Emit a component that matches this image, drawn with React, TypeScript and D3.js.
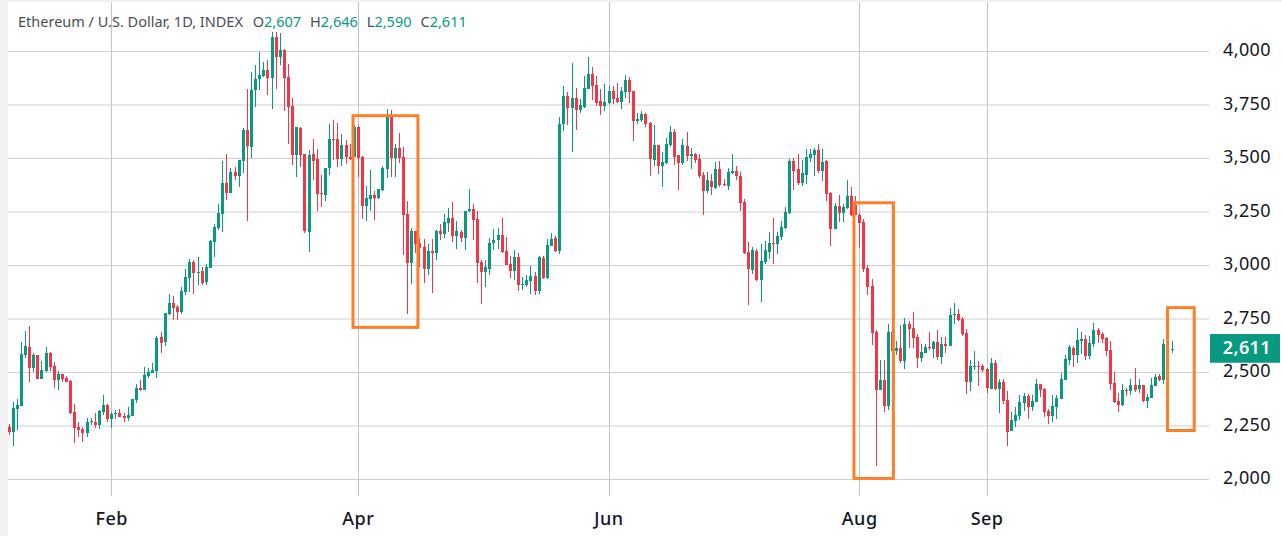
import * as d3 from "d3";
import { useEffect, useRef } from "react";

// daily candles from 2024-01-07 to 2024-10-16
const startDay = new Date(Date.UTC(2024, 0, 7));
const opens = [2246,2223,2329,2344,2581,2618,2520,2581,2469,2506,2590,2530,2464,2492,2473,2459,2315,2244,2235,2216,2268,2268,2254,2315,2347,2282,2305,2310,2296,2286,2296,2371,2427,2417,2483,2497,2506,2665,2642,2772,2823,2805,2781,2875,2940,3015,2963,2973,2921,2987,3108,3174,3239,3384,3337,3436,3417,3487,3632,3552,3819,3870,3884,3912,3875,4067,3973,4006,3880,3744,3515,3641,3520,3155,3520,3496,3337,3328,3454,3590,3590,3496,3562,3506,3506,3648,3506,3277,3310,3328,3314,3352,3450,3693,3501,3548,3506,3239,3010,3160,3104,3085,2982,3066,3057,3160,3146,3197,3221,3137,3155,3127,3253,3263,3216,3015,2968,2982,3104,3118,3141,3066,3006,2973,3038,2908,2908,2926,2950,2880,3034,2940,3090,3127,3066,3660,3791,3735,3782,3726,3740,3824,3894,3843,3768,3745,3759,3815,3782,3763,3810,3866,3815,3674,3679,3707,3665,3492,3562,3464,3478,3562,3623,3515,3478,3558,3511,3520,3497,3422,3347,3394,3361,3450,3380,3371,3431,3441,3417,3296,3062,2978,3066,2931,3015,3062,3104,3099,3132,3174,3244,3487,3450,3384,3422,3501,3515,3539,3440,3487,3337,3169,3277,3244,3267,3323,3281,3235,3202,2987,2903,2688,2417,2463,2342,2688,2599,2613,2552,2725,2707,2665,2567,2591,2619,2609,2642,2572,2633,2623,2768,2773,2749,2684,2455,2525,2530,2530,2516,2422,2544,2422,2455,2371,2226,2273,2296,2357,2389,2338,2361,2446,2422,2319,2296,2338,2375,2464,2558,2614,2581,2647,2656,2577,2633,2698,2679,2661,2605,2450,2366,2347,2418,2413,2441,2422,2441,2366,2380,2436,2483,2464,2633,2607];
const highs = [2258,2361,2375,2643,2693,2716,2590,2581,2553,2618,2595,2548,2506,2492,2483,2464,2352,2268,2244,2286,2286,2310,2324,2394,2352,2315,2324,2329,2310,2338,2375,2445,2464,2525,2520,2544,2670,2688,2777,2865,2859,2814,2900,2982,3029,3024,3038,2991,3006,3118,3193,3286,3487,3520,3454,3459,3492,3641,3823,3903,3936,3996,3950,3959,4090,4090,4085,4010,3940,3781,3646,3646,3520,3538,3590,3543,3422,3454,3660,3679,3665,3613,3585,3566,3655,3651,3510,3370,3445,3347,3356,3464,3730,3726,3567,3618,3553,3300,3174,3160,3127,3123,3099,3123,3165,3193,3239,3267,3296,3207,3165,3253,3356,3286,3253,3024,3024,3127,3169,3174,3221,3132,3043,3071,3057,2945,2954,2996,2968,3043,3043,3123,3151,3137,3693,3838,3810,3945,3829,3777,3885,3974,3927,3885,3824,3847,3838,3838,3852,3833,3889,3880,3815,3712,3721,3712,3670,3656,3562,3529,3595,3651,3637,3515,3590,3623,3548,3525,3520,3436,3436,3427,3483,3487,3403,3455,3520,3464,3436,3310,3109,3085,3076,3099,3113,3155,3221,3155,3207,3272,3496,3501,3520,3492,3543,3543,3548,3567,3543,3492,3342,3291,3328,3286,3398,3366,3326,3244,3216,3001,2936,2697,2557,2557,2725,2688,2646,2721,2753,2739,2782,2679,2633,2633,2689,2647,2698,2665,2665,2801,2824,2796,2759,2703,2558,2600,2553,2539,2520,2567,2558,2470,2469,2413,2315,2338,2394,2404,2399,2394,2469,2446,2427,2329,2394,2394,2497,2581,2628,2623,2707,2689,2675,2670,2731,2707,2689,2665,2647,2502,2404,2446,2427,2469,2520,2469,2441,2399,2474,2492,2492,2656,2640,2646];
const lows = [2207,2157,2230,2344,2568,2456,2501,2469,2469,2501,2506,2427,2417,2455,2455,2305,2170,2198,2174,2198,2254,2240,2235,2300,2268,2240,2282,2291,2268,2272,2296,2357,2413,2417,2473,2497,2473,2590,2623,2767,2744,2744,2772,2861,2875,2868,2907,2907,2907,2987,3038,3164,3155,3305,3337,3398,3365,3431,3206,3501,3739,3819,3880,3795,3730,3823,3936,3721,3566,3468,3412,3459,3150,3062,3398,3253,3272,3300,3422,3492,3459,3464,3473,3494,3506,3412,3216,3207,3253,3211,3310,3347,3408,3414,3412,3478,3048,2772,2912,3060,2992,2917,2954,2870,3024,3118,3127,3155,3109,3076,3109,3071,3249,3118,2917,2819,2898,2954,3071,3076,3057,3001,2940,2931,2880,2884,2898,2866,2861,2866,2936,2936,3090,3062,3052,3628,3656,3530,3632,3712,3735,3824,3773,3745,3702,3721,3754,3754,3759,3731,3782,3759,3581,3660,3670,3646,3417,3464,3427,3366,3473,3553,3469,3352,3469,3487,3450,3478,3408,3235,3338,3329,3356,3366,3371,3352,3427,3399,3254,3053,2814,2959,2926,2828,3006,3029,3006,3052,3118,3169,3239,3352,3375,3370,3380,3482,3417,3431,3394,3300,3090,3169,3202,3202,3263,3230,3235,3080,2968,2861,2627,2061,2417,2314,2323,2599,2580,2543,2515,2613,2614,2520,2548,2591,2605,2567,2558,2539,2591,2623,2726,2740,2670,2399,2413,2511,2436,2502,2404,2422,2418,2310,2352,2156,2226,2245,2277,2319,2282,2319,2361,2385,2291,2259,2268,2282,2375,2464,2534,2525,2544,2586,2558,2562,2619,2637,2637,2577,2418,2357,2315,2343,2390,2394,2408,2404,2361,2333,2380,2436,2460,2446,2600,2590];
const closes = [2223,2335,2347,2586,2623,2520,2581,2469,2511,2590,2525,2464,2492,2469,2455,2310,2240,2230,2216,2268,2272,2254,2319,2347,2282,2305,2310,2291,2286,2300,2375,2427,2417,2487,2501,2511,2660,2637,2777,2823,2800,2781,2879,2945,3015,2963,2968,2917,2991,3115,3178,3244,3384,3337,3436,3417,3492,3632,3557,3819,3870,3889,3912,3875,4067,3973,4006,3875,3739,3515,3646,3515,3160,3515,3487,3333,3333,3454,3590,3585,3496,3562,3506,3500,3648,3501,3277,3314,3328,3314,3356,3454,3693,3501,3548,3501,3235,3010,3160,3099,3081,2982,3066,3057,3160,3146,3202,3221,3137,3160,3127,3253,3263,3211,3010,2968,2992,3104,3118,3141,3062,3001,2973,3038,2908,2912,2931,2950,2880,3038,2940,3095,3123,3066,3660,3791,3735,3782,3726,3749,3829,3894,3838,3759,3745,3763,3815,3777,3763,3815,3866,3810,3674,3684,3707,3660,3497,3562,3464,3483,3567,3623,3506,3478,3562,3511,3520,3492,3417,3347,3399,3366,3450,3375,3375,3436,3441,3417,3291,3057,2984,3071,2931,3020,3071,3104,3099,3137,3179,3249,3487,3440,3384,3431,3506,3520,3539,3440,3482,3333,3169,3277,3244,3272,3323,3235,3235,3197,2982,2898,2683,2417,2463,2342,2688,2599,2613,2552,2725,2702,2661,2567,2595,2619,2614,2642,2572,2633,2623,2768,2773,2745,2679,2455,2530,2530,2525,2511,2427,2544,2422,2455,2366,2221,2277,2301,2362,2389,2338,2366,2446,2418,2315,2296,2343,2380,2469,2562,2619,2581,2651,2656,2577,2637,2698,2675,2656,2600,2446,2362,2347,2418,2413,2441,2418,2441,2366,2385,2441,2478,2464,2633,2605,2611];

const priceTicks = [2000, 2250, 2500, 2750, 3000, 3250, 3500, 3750, 4000];
const monthTicks = [
  { label: "Feb", date: new Date(Date.UTC(2024, 1, 1)) },
  { label: "Apr", date: new Date(Date.UTC(2024, 3, 1)) },
  { label: "Jun", date: new Date(Date.UTC(2024, 5, 1)) },
  { label: "Aug", date: new Date(Date.UTC(2024, 7, 1)) },
  { label: "Sep", date: new Date(Date.UTC(2024, 8, 1)) },
];

// highlight boxes: first/last candle index and price range
const boxFrom = [83.7, 205.6, 281.9];
const boxTo = [99.5, 215.2, 288.4];
const boxTop = [3700, 3293, 2803];
const boxBottom = [2711, 2005, 2229];

const green = "#089981";
const red = "#f23645";
const fontFamily = "'Noto Sans', sans-serif";

const App = () => {
  const svgRef = useRef<SVGSVGElement>(null);

  useEffect(() => {
    const svg = d3.select(svgRef.current);
    svg.selectAll("*").remove();

    const width = 1282;
    const height = 536;
    const plotLeft = 8;
    const plotRight = 1209;
    const n = opens.length - 1;

    const xRange = [9.02, 1172.02];
    const x = d3.scaleUtc().domain([startDay, d3.utcDay.offset(startDay, n)]).range(xRange);
    const xIndex = d3.scaleLinear().domain([0, n]).range(xRange);
    const y = d3.scaleLinear().domain([2000, 4000]).range([479.5, 51.5]);

    svg.append("rect").attr("width", width).attr("height", height).attr("fill", "#fff");
    // the grey edge around the screenshot
    svg.append("rect").attr("width", width).attr("height", 2).attr("fill", "#f2f2f2");
    svg.append("rect").attr("width", plotLeft).attr("height", height).attr("fill", "#f2f2f2");

    // grid
    svg
      .append("g")
      .selectAll("line")
      .data(priceTicks)
      .join("line")
      .attr("x1", plotLeft)
      .attr("x2", plotRight)
      .attr("y1", (d) => y(d))
      .attr("y2", (d) => y(d))
      .attr("stroke", "#cfcfcf");

    svg
      .append("g")
      .selectAll("line")
      .data(monthTicks)
      .join("line")
      .attr("x1", (d) => Math.floor(x(d.date)) + 0.5)
      .attr("x2", (d) => Math.floor(x(d.date)) + 0.5)
      .attr("y1", 2)
      .attr("y2", 496)
      .attr("stroke", "#c4c4c4");

    // candles
    const candles = svg
      .append("g")
      .selectAll("g")
      .data(d3.range(opens.length))
      .join("g")
      .attr("fill", (i) => (closes[i] >= opens[i] ? green : red));

    candles
      .append("rect")
      .attr("x", (i) => Math.floor(xIndex(i)))
      .attr("width", 1)
      .attr("y", (i) => Math.round(y(highs[i])))
      .attr("height", (i) => Math.max(1, Math.round(y(lows[i])) - Math.round(y(highs[i]))));

    candles
      .append("rect")
      .attr("x", (i) => Math.floor(xIndex(i)) - 1)
      .attr("width", 3)
      .attr("y", (i) => Math.round(y(Math.max(opens[i], closes[i]))))
      .attr("height", (i) =>
        Math.max(1, Math.round(y(Math.min(opens[i], closes[i]))) - Math.round(y(Math.max(opens[i], closes[i]))))
      );

    // orange boxes
    svg
      .append("g")
      .selectAll("rect")
      .data(boxFrom)
      .join("rect")
      .attr("x", (_, k) => xIndex(boxFrom[k]))
      .attr("width", (_, k) => xIndex(boxTo[k]) - xIndex(boxFrom[k]))
      .attr("y", (_, k) => y(boxTop[k]))
      .attr("height", (_, k) => y(boxBottom[k]) - y(boxTop[k]))
      .attr("fill", "none")
      .attr("stroke", "#ff7f27")
      .attr("stroke-width", 3);

    // price axis
    svg
      .append("g")
      .selectAll("text")
      .data(priceTicks)
      .join("text")
      .attr("x", 1271)
      .attr("y", (d) => y(d) + 4.5)
      .attr("text-anchor", "end")
      .attr("font-family", fontFamily)
      .attr("font-size", 18)
      .attr("letter-spacing", 0.4)
      .attr("fill", "#131722")
      .text((d) => d3.format(",")(d));

    // last price tag
    const last = closes[n];
    svg
      .append("rect")
      .attr("x", 1210)
      .attr("y", y(last) - 14.7)
      .attr("width", 70)
      .attr("height", 28.7)
      .attr("fill", green);
    svg
      .append("text")
      .attr("x", 1271)
      .attr("y", y(last) + 5.3)
      .attr("text-anchor", "end")
      .attr("font-family", fontFamily)
      .attr("font-size", 18)
      .attr("font-weight", 600)
      .attr("letter-spacing", 0.4)
      .attr("fill", "#fff")
      .text(d3.format(",")(last));

    // month axis
    svg
      .append("g")
      .selectAll("text")
      .data(monthTicks)
      .join("text")
      .attr("x", (d) => x(d.date))
      .attr("y", 525)
      .attr("text-anchor", "middle")
      .attr("font-family", fontFamily)
      .attr("font-size", 18)
      .attr("font-weight", 500)
      .attr("letter-spacing", 0.5)
      .attr("fill", "#131722")
      .text((d) => d.label);

    // legend line
    const legend = svg
      .append("text")
      .attr("x", 18)
      .attr("y", 27)
      .attr("font-family", fontFamily)
      .attr("font-size", 14.5)
      .attr("fill", "#4a4e57");
    legend.append("tspan").text("Ethereum / U.S. Dollar, 1D, INDEX");
    const parts: [string, number][] = [["O", opens[n]], ["H", highs[n]], ["L", lows[n]], ["C", closes[n]]];
    parts.forEach(([name, value], k) => {
      legend.append("tspan").attr("dx", k === 0 ? 10 : 9).text(name);
      legend.append("tspan").attr("fill", green).text(d3.format(",")(value));
    });
  }, []);

  return (
    <svg
      ref={svgRef}
      width={1282}
      height={536}
      style={{ position: "absolute", left: 0, top: 0 }}
    />
  );
};

export default App;
